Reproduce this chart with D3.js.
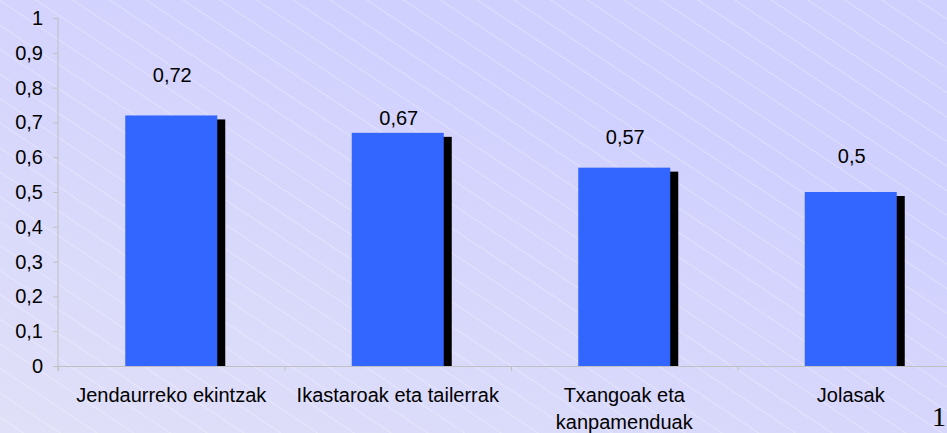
<!DOCTYPE html>
<html>
<head>
<meta charset="utf-8">
<script src="https://cdn.jsdelivr.net/npm/d3@7"></script>
<style>
  html, body { margin: 0; padding: 0; background: #d0d0ff; overflow: hidden; }
  svg { display: block; font-family: "Liberation Sans", Arial, sans-serif; }
</style>
</head>
<body>
<svg id="chart"></svg>
<script>
// chart data
const categories = ["Jendaurreko ekintzak", "Ikastaroak eta tailerrak", "Txangoak eta kanpamenduak", "Jolasak"];
const values = [0.72, 0.67, 0.57, 0.5];
const yTicks = [0, 0.1, 0.2, 0.3, 0.4, 0.5, 0.6, 0.7, 0.8, 0.9, 1];

// value labels sit at uneven heights in the original (px above bar top)
const labelGap = [33, 8, 24, 29];

const W = 947, H = 433;
const margin = { top: 18, left: 58 };
const plotBottom = 366;
const bandW = 226.5;
const barW = 92;

const svg = d3.select("#chart").attr("width", W).attr("height", H);

// background gradient + faint diagonal lines
const defs = svg.append("defs");
const grad = defs.append("linearGradient").attr("id", "bg")
  .attr("x1", "0").attr("y1", "1").attr("x2", "0.6").attr("y2", "0.2");
grad.append("stop").attr("offset", "0").attr("stop-color", "#e0e0f8");
grad.append("stop").attr("offset", "1").attr("stop-color", "#d0d0ff");

const pat = defs.append("pattern").attr("id", "hatch")
  .attr("patternUnits", "userSpaceOnUse")
  .attr("width", 20).attr("height", 20.4)
  .attr("patternTransform", "rotate(33.7)");
pat.append("line")
  .attr("x1", 0).attr("x2", 20).attr("y1", 0.5).attr("y2", 0.5)
  .attr("stroke", "#ffffff").attr("stroke-opacity", 0.3).attr("stroke-width", 1);

svg.append("rect").attr("width", W).attr("height", H).attr("fill", "url(#bg)");
svg.append("rect").attr("width", W).attr("height", H).attr("fill", "url(#hatch)");

// scales
const x = d3.scaleBand()
  .domain(categories)
  .range([margin.left, margin.left + bandW * categories.length])
  .padding(0);

const y = d3.scaleLinear()
  .domain([0, 1])
  .range([plotBottom, margin.top]);

const loc = d3.formatLocale({ decimal: ",", thousands: ".", grouping: [3], currency: ["", ""] });
const fmt = v => loc.format("~g")(+v.toFixed(2));

// y axis
const yAxis = svg.append("g")
  .attr("transform", `translate(${margin.left},0)`)
  .call(d3.axisLeft(y).tickValues(yTicks).tickFormat(fmt).tickSize(5).tickPadding(10));
yAxis.select(".domain").attr("stroke", "#c0c0c0").attr("d", `M0,${margin.top}V${plotBottom + 5}`);
yAxis.selectAll(".tick line").attr("stroke", "#c0c0c0");
yAxis.selectAll(".tick text")
  .attr("fill", "#000").style("font-size", "20px").style("font-family", "'Liberation Sans', Arial, sans-serif");

// bars: black shadow, then blue bar
const bars = svg.append("g");
bars.selectAll("rect.shadow")
  .data(values)
  .join("rect")
  .attr("class", "shadow")
  .attr("x", (d, i) => x(categories[i]) + (bandW - barW) / 2 + 8)
  .attr("y", d => y(d) + 4)
  .attr("width", barW)
  .attr("height", d => y(0) - y(d) - 4)
  .attr("fill", "#000");

bars.selectAll("rect.bar")
  .data(values)
  .join("rect")
  .attr("class", "bar")
  .attr("x", (d, i) => x(categories[i]) + (bandW - barW) / 2)
  .attr("y", d => y(d))
  .attr("width", barW)
  .attr("height", d => y(0) - y(d))
  .attr("fill", "#3366ff");

// x axis
const xAxis = svg.append("g");
xAxis.append("line")
  .attr("x1", margin.left).attr("x2", W)
  .attr("y1", plotBottom + 0.5).attr("y2", plotBottom + 0.5)
  .attr("stroke", "#c0c0c0");
xAxis.selectAll("line.tick")
  .data(categories)
  .join("line")
  .attr("class", "tick")
  .attr("x1", d => x(d) + 0.5).attr("x2", d => x(d) + 0.5)
  .attr("y1", plotBottom).attr("y2", plotBottom + 5)
  .attr("stroke", "#c0c0c0");

// category labels, wrapped to the band width
const catLabels = xAxis.selectAll("text.cat")
  .data(categories)
  .join("text")
  .attr("class", "cat")
  .attr("x", d => x(d) + bandW / 2)
  .attr("y", 402)
  .attr("text-anchor", "middle")
  .style("font-size", "20px")
  .attr("fill", "#000");

catLabels.each(function (d) {
  const t = d3.select(this);
  const words = d.split(" ");
  let line = [];
  let tspan = t.append("tspan").attr("x", x(d) + bandW / 2).attr("dy", 0);
  words.forEach(w => {
    line.push(w);
    tspan.text(line.join(" "));
    if (tspan.node().getComputedTextLength() > bandW - 8 && line.length > 1) {
      line.pop();
      tspan.text(line.join(" "));
      line = [w];
      tspan = t.append("tspan").attr("x", x(d) + bandW / 2).attr("dy", 27).text(w);
    }
  });
});

// value labels
svg.append("g").selectAll("text")
  .data(values)
  .join("text")
  .attr("x", (d, i) => x(categories[i]) + bandW / 2 + 1)
  .attr("y", (d, i) => y(d) - labelGap[i])
  .attr("text-anchor", "middle")
  .style("font-size", "20px")
  .attr("fill", "#000")
  .text(d => fmt(d));

// page number in the corner
svg.append("text")
  .attr("x", 932).attr("y", 426)
  .style("font-family", "'Liberation Serif', 'Times New Roman', serif")
  .style("font-size", "28px")
  .attr("fill", "#000")
  .text("1");
</script>
</body>
</html>
